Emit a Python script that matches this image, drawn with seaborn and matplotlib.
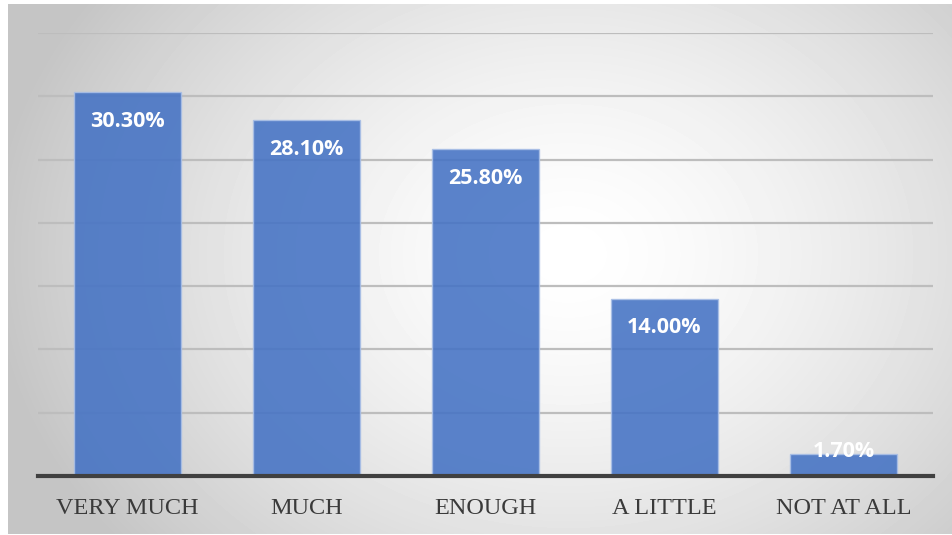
import numpy as np
import pandas as pd
import matplotlib
matplotlib.use("Agg")
import matplotlib.pyplot as plt
import seaborn as sns

# Data
categories = ["VERY MUCH", "MUCH", "ENOUGH", "A LITTLE", "NOT AT ALL"]
values = [30.3, 28.1, 25.8, 14.0, 1.7]
labels = ["30.30%", "28.10%", "25.80%", "14.00%", "1.70%"]

df = pd.DataFrame({"answer": categories, "pct": values})

sns.set_theme(style="white")

W, H = 952, 535
fig = plt.figure(figsize=(W / 100, H / 100), dpi=100)
fig.patch.set_facecolor("white")

# --- radial gradient background panel ---
bg = fig.add_axes([8 / W, 1 / H, (W - 8) / W, (H - 5) / H], zorder=0)
yy, xx = np.mgrid[0:530, 0:944]
cx, cy = 560, 250
r = np.sqrt(((xx - cx) / 580.0) ** 2 + ((yy - cy) / 460.0) ** 2)
shade = 1.0 - 0.23 * np.clip(r, 0, 1) ** 1.5
bg.imshow(shade, cmap="gray", vmin=0, vmax=1, aspect="auto", interpolation="bilinear")
bg.set_axis_off()

# --- bar chart ---
ax = fig.add_axes([38 / W, 1 - 476 / H, (933 - 38) / W, (476 - 33) / H], zorder=1)
ax.patch.set_alpha(0)
sns.barplot(data=df, x="answer", y="pct", color="#4472C4", alpha=0.88,
            saturation=1, width=0.6, edgecolor="#a9bfe6", linewidth=1.0,
            ax=ax, zorder=3)

ax.set_ylim(0, 35)
ax.set_yticks(np.arange(0, 36, 5))
ax.yaxis.grid(True, color="#bdbdbd", linewidth=1.6, zorder=0)
ax.set_axisbelow(True)
ax.tick_params(axis="y", left=False, labelleft=False)
ax.tick_params(axis="x", bottom=False, pad=10)
for s in ["top", "right", "left"]:
    ax.spines[s].set_visible(False)
ax.spines["bottom"].set_color("#404040")
ax.spines["bottom"].set_linewidth(3)
ax.spines["bottom"].set_zorder(5)
ax.set_xlabel("")
ax.set_ylabel("")
for t in ax.get_xticklabels():
    t.set_family("Liberation Serif")
    t.set_fontsize(17.5)
    t.set_color("#3a3a3a")

for i, (v, lab) in enumerate(zip(values, labels)):
    ax.text(i, max(v - 2.3, 1.9), lab, ha="center", va="center",
            color="white", fontsize=15.5, fontweight="bold",
            family="Open Sans", zorder=6)

fig.savefig("out.png", dpi=100)
